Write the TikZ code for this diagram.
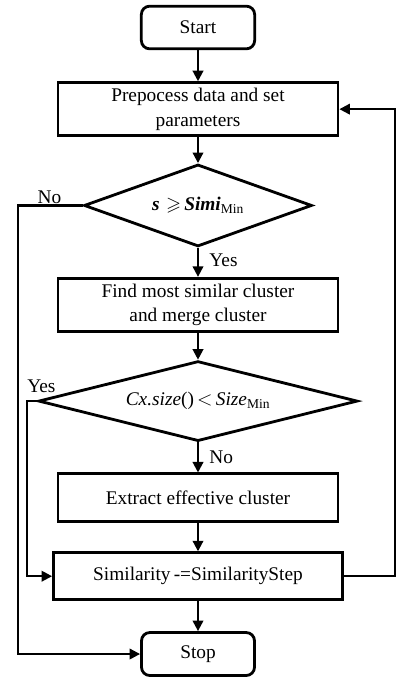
\documentclass[tikz,border=0pt]{standalone}
\usepackage{amsmath}
\usepackage{amssymb}
\usepackage{fontspec}
\setmainfont{Liberation Serif}
\usepackage{tikz}
\usetikzlibrary{shapes.geometric,positioning,arrows.meta}

\begin{document}
\begin{tikzpicture}[
		every node/.style={font=\fontsize{16.5}{21}\selectfont},
		box/.style={draw, line width=2.4pt, minimum width=8.4cm, align=center, inner sep=2pt},
		term/.style={draw, line width=2.4pt, rounded corners=0.25cm, minimum width=3.4cm, minimum height=1.28cm},
		decision/.style={draw, diamond, line width=2.4pt, inner sep=0pt},
		lbl/.style={inner sep=1pt},
		flow/.style={->, line width=1.8pt, >={Triangle[length=9pt,width=9pt]}}
		]
		\useasboundingbox (0,0) rectangle (11.97,-20.4);
		\node[term] (start) at (5.94,-0.825) {Start};
		\node[box, minimum height=1.59cm] (prep) [below=0.93cm of start] {Prepocess data and set\\parameters};
		\node[decision, aspect=2.78, minimum width=6.84cm, minimum height=2.46cm] (simi) [below=0.78cm of prep]
			{\bfseries\itshape s\,\,$\geqslant$\,Simi\textsubscript{\mdseries\upshape Min}};
		\node[box, minimum height=1.59cm] (find) [below=0.87cm of simi] {Find most similar cluster\\and merge cluster};
		\node[decision, aspect=3.99, minimum width=9.57cm, minimum height=2.4cm] (size) [below=0.81cm of find]
			{{\itshape Cx.size}()\,$<$\,{\itshape Size}\textsubscript{Min}};
		\node[box, minimum height=1.44cm] (extract) [below=0.9cm of size] {Extract effective cluster};
		\node[box, minimum width=8.67cm, minimum height=1.41cm] (sim) [below=0.84cm of extract] {Similarity\,-=SimilarityStep};
		\node[term, minimum width=3.39cm, minimum height=1.29cm] (stop) [below=0.9cm of sim] {Stop};

		\coordinate (nox) at (0.54,0);
		\coordinate (yesx) at (0.81,0);
		\coordinate (backx) at (11.85,0);

		\path[flow]
		(start) edge (prep)
		(prep) edge (simi)
		(simi) edge (find)
		(find) edge (size)
		(size) edge (extract)
		(extract) edge (sim)
		(sim) edge (stop);
		\draw[flow] (simi.west) -- (simi.west -| nox) |- (stop.west);
		\draw[flow] (size.west) -- (size.west -| yesx) |- (sim.west);
		\draw[flow] (sim.east) -- (sim.east -| backx) |- (prep.east);

		\node[lbl, above left=0pt and 0.6cm of simi.west] (no1) {No};
		\node[lbl, below right=0.15cm and 0.3cm of simi.south] (yes1) {Yes};
		\node[lbl, above=0.22cm of size.west, xshift=0.13cm] (yes2) {Yes};
		\node[lbl, below right=0.2cm and 0.3cm of size.south] (no2) {No};
	\end{tikzpicture}
\end{document}
